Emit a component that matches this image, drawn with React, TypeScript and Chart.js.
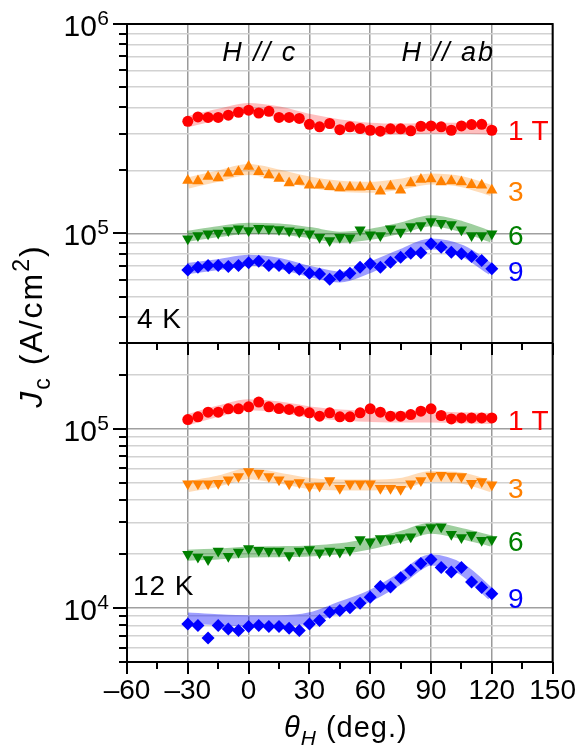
import React, { useEffect, useRef } from 'react';
import { Chart, registerables } from 'chart.js';

Chart.register(...registerables);

const FONT = '"Liberation Sans", Arial, Helvetica, sans-serif';

// ---------- data ----------
const angles = [-30, -25, -20, -15, -10, -5, 0, 5, 10, 15, 20, 25, 30, 35, 40, 45, 50, 55, 60, 65, 70, 75, 80, 85, 90, 95, 100, 105, 110, 115, 120];
const bandAngles = [-30, -15, 0, 15, 30, 45, 60, 75, 90, 105, 120];

// 4 K panel
const jc4K_1T = [3.43e5, 3.60e5, 3.58e5, 3.58e5, 3.67e5, 3.79e5, 3.88e5, 3.76e5, 3.83e5, 3.58e5, 3.58e5, 3.54e5, 3.32e5, 3.23e5, 3.35e5, 3.13e5, 3.23e5, 3.17e5, 3.11e5, 3.08e5, 3.16e5, 3.16e5, 3.09e5, 3.25e5, 3.26e5, 3.23e5, 3.11e5, 3.26e5, 3.31e5, 3.32e5, 3.11e5];
const jc4K_3T = [1.79e5, 1.78e5, 1.87e5, 1.84e5, 1.94e5, 1.97e5, 2.09e5, 1.97e5, 1.90e5, 1.83e5, 1.74e5, 1.77e5, 1.70e5, 1.70e5, 1.67e5, 1.65e5, 1.66e5, 1.66e5, 1.67e5, 1.59e5, 1.68e5, 1.61e5, 1.74e5, 1.81e5, 1.82e5, 1.76e5, 1.78e5, 1.76e5, 1.71e5, 1.70e5, 1.61e5];
const jc4K_6T = [9.43e4, 9.78e4, 9.96e4, 1.004e5, 1.034e5, 1.053e5, 1.034e5, 1.06e5, 1.053e5, 1.045e5, 1.03e5, 1.015e5, 9.96e4, 9.6e4, 9.26e4, 9.6e4, 9.53e4, 1.041e5, 9.85e4, 9.78e4, 1.053e5, 1.015e5, 1.08e5, 1.092e5, 1.141e5, 1.12e5, 1.104e5, 1.041e5, 9.78e4, 9.78e4, 9.96e4];
const jc4K_9T = [6.70e4, 6.90e4, 7.03e4, 7.03e4, 6.95e4, 7.03e4, 7.24e4, 7.37e4, 7.03e4, 7.03e4, 6.85e4, 6.75e4, 6.46e4, 6.41e4, 6.05e4, 6.30e4, 6.46e4, 6.90e4, 7.16e4, 6.90e4, 7.29e4, 7.70e4, 8.05e4, 8.08e4, 8.93e4, 8.60e4, 8.14e4, 8.00e4, 7.76e4, 7.43e4, 6.78e4];

const band4K_1T = [3.42e5, 3.70e5, 3.95e5, 3.80e5, 3.50e5, 3.30e5, 3.18e5, 3.15e5, 3.18e5, 3.18e5, 3.15e5];
const band4K_3T = [1.74e5, 1.88e5, 2.02e5, 1.90e5, 1.76e5, 1.68e5, 1.66e5, 1.72e5, 1.82e5, 1.77e5, 1.60e5];
const band4K_6T = [9.7e4, 1.02e5, 1.06e5, 1.05e5, 1.01e5, 9.6e4, 9.9e4, 1.06e5, 1.15e5, 1.08e5, 9.6e4];
const band4K_9T = [6.8e4, 7.1e4, 7.45e4, 7.2e4, 6.6e4, 6.2e4, 6.9e4, 7.9e4, 8.9e4, 8.3e4, 6.7e4];

// 12 K panel
const jc12K_1T = [1.123e5, 1.163e5, 1.235e5, 1.235e5, 1.289e5, 1.289e5, 1.322e5, 1.405e5, 1.322e5, 1.294e5, 1.278e5, 1.251e5, 1.224e5, 1.172e5, 1.224e5, 1.163e5, 1.163e5, 1.224e5, 1.289e5, 1.235e5, 1.172e5, 1.172e5, 1.198e5, 1.251e5, 1.289e5, 1.183e5, 1.132e5, 1.147e5, 1.147e5, 1.147e5, 1.147e5];
const jc12K_3T = [4.92e4, 4.92e4, 4.92e4, 4.96e4, 5.18e4, 5.41e4, 5.77e4, 5.64e4, 5.41e4, 5.18e4, 4.92e4, 5.00e4, 4.75e4, 4.79e4, 5.13e4, 4.65e4, 4.92e4, 4.92e4, 4.92e4, 4.65e4, 4.65e4, 4.59e4, 4.92e4, 5.13e4, 5.45e4, 5.50e4, 5.45e4, 5.41e4, 4.96e4, 5.07e4, 4.86e4];
const jc12K_6T = [1.994e4, 1.927e4, 1.862e4, 2.08e4, 1.944e4, 2.055e4, 2.145e4, 2.10e4, 2.08e4, 2.08e4, 1.96e4, 2.08e4, 2.118e4, 2.03e4, 2.08e4, 2.055e4, 2.10e4, 2.408e4, 2.338e4, 2.44e4, 2.44e4, 2.472e4, 2.493e4, 2.74e4, 2.81e4, 2.836e4, 2.58e4, 2.472e4, 2.548e4, 2.388e4, 2.408e4];
const jc12K_9T = [8.15e3, 7.98e3, 6.81e3, 7.98e3, 7.64e3, 7.48e3, 7.88e3, 7.98e3, 7.88e3, 7.88e3, 7.71e3, 7.48e3, 8.15e3, 8.51e3, 9.48e3, 9.68e3, 1.002e4, 1.063e4, 1.149e4, 1.319e4, 1.308e4, 1.475e4, 1.622e4, 1.768e4, 1.862e4, 1.68e4, 1.588e4, 1.68e4, 1.395e4, 1.30e4, 1.20e4];

const band12K_1T = [1.12e5, 1.25e5, 1.36e5, 1.32e5, 1.24e5, 1.19e5, 1.17e5, 1.16e5, 1.16e5, 1.15e5, 1.14e5];
const band12K_3T = [4.75e4, 5.1e4, 5.6e4, 5.3e4, 4.95e4, 4.85e4, 4.85e4, 4.95e4, 5.4e4, 5.3e4, 4.75e4];
const band12K_6T = [1.97e4, 2.0e4, 2.05e4, 2.06e4, 2.08e4, 2.14e4, 2.28e4, 2.5e4, 2.78e4, 2.6e4, 2.36e4];
const band12K_9T = [8.8e3, 8.6e3, 8.5e3, 8.5e3, 8.8e3, 1.01e4, 1.17e4, 1.46e4, 1.85e4, 1.65e4, 1.18e4];

const fieldLabels = ['1 T', '3', '6', '9'];
const labelAngle = 128;
const labelY4K = [3.04e5, 1.55e5, 9.57e4, 6.44e4];
const labelY12K = [1.08e5, 4.55e4, 2.30e4, 1.10e4];

const xMin = -60;
const xMax = 150;
const yTopMin = 3e4;
const yTopMax = 1e6;
const yBotMin = 5e3;
const yBotMax = 3e5;

// ---------- styles ----------
const colors = ['#ff0000', '#ff8000', '#008000', '#0000ff'];
const bandColors = ['rgba(255,0,0,0.25)', 'rgba(255,128,0,0.28)', 'rgba(0,128,0,0.38)', 'rgba(0,0,255,0.38)'];
const markerStyles = ['circle', 'triangle', 'triangle', 'rectRot'];
const rotTop = [0, 0, 180, 0];
const rotBot = [0, 180, 180, 0];
const radii = [5.5, 6.5, 6.5, 6.5];

function buildDatasets(axis: string, series: number[][], bands: number[][], rots: number[]) {
  const out: any[] = [];
  bands.forEach((b, i) => {
    out.push({
      type: 'line',
      yAxisID: axis,
      data: bandAngles.map((x, j) => ({ x, y: b[j] })),
      borderColor: bandColors[i],
      borderWidth: 11,
      borderCapStyle: 'butt',
      pointRadius: 0,
      fill: false,
      cubicInterpolationMode: 'monotone',
      order: 2,
    });
  });
  series.forEach((s, i) => {
    out.push({
      type: 'line',
      yAxisID: axis,
      data: angles.map((x, j) => ({ x, y: s[j] })),
      showLine: false,
      pointStyle: markerStyles[i],
      pointRotation: rots[i],
      pointRadius: radii[i],
      pointBackgroundColor: colors[i],
      pointBorderColor: colors[i],
      pointBorderWidth: 0,
      backgroundColor: colors[i],
      borderColor: colors[i],
      order: 1,
    });
  });
  return out;
}

function logTicks(scale: any) {
  const out: any[] = [];
  const lo = Math.floor(Math.log10(scale.min));
  const hi = Math.ceil(Math.log10(scale.max));
  for (let e = lo; e <= hi; e++) {
    for (let m = 1; m <= 9; m++) {
      const v = m * Math.pow(10, e);
      if (v >= scale.min * 0.999 && v <= scale.max * 1.001) out.push({ value: v, major: m === 1 });
    }
  }
  scale.ticks = out;
}

type Part = { t: string; size: number; italic?: boolean; dy?: number };
function setFont(ctx: CanvasRenderingContext2D, p: Part) {
  ctx.font = `${p.italic ? 'italic ' : ''}${p.size}px ${FONT}`;
}
function richWidth(ctx: CanvasRenderingContext2D, parts: Part[]) {
  let w = 0;
  for (const p of parts) { setFont(ctx, p); w += ctx.measureText(p.t).width; }
  return w;
}
function drawRich(ctx: CanvasRenderingContext2D, parts: Part[], x: number, y: number) {
  let cx = x;
  for (const p of parts) {
    setFont(ctx, p);
    ctx.fillText(p.t, cx, y + (p.dy || 0));
    cx += ctx.measureText(p.t).width;
  }
}

const annotations = [
  { text: 'H // c', axis: 'yTop', x: -13, y: 7.27e5, italic: true, size: 27, spacing: 2 },
  { text: 'H // ab', axis: 'yTop', x: 75.4, y: 7.27e5, italic: true, size: 27, spacing: 2 },
  { text: '4 K', axis: 'yTop', x: -55.1, y: 3.84e4, italic: false, size: 28, spacing: 1 },
  { text: '12 K', axis: 'yBot', x: -57.1, y: 1.30e4, italic: false, size: 28, spacing: 1 },
];

const framePlugin = {
  id: 'framePlugin',
  afterDraw(chart: any) {
    const ctx: CanvasRenderingContext2D = chart.ctx;
    const { left, right, top, bottom } = chart.chartArea;
    const xs = chart.scales.x;
    const yT = chart.scales.yTop;
    const yB = chart.scales.yBot;
    const mid = yT.bottom;
    ctx.save();
    ctx.strokeStyle = '#000';
    ctx.fillStyle = '#000';
    ctx.lineWidth = 2;
    // frame
    ctx.strokeRect(left, top, right - left, bottom - top);
    ctx.beginPath();
    ctx.moveTo(left, mid);
    ctx.lineTo(right, mid);
    ctx.stroke();
    // y ticks + labels
    for (const s of [yT, yB]) {
      for (const t of s.ticks) {
        const y = Math.round(s.getPixelForValue(t.value));
        const len = t.major ? 14 : 8;
        ctx.beginPath();
        ctx.moveTo(left - len, y);
        ctx.lineTo(left, y);
        ctx.stroke();
        if (t.major) {
          const e = Math.round(Math.log10(t.value));
          ctx.textAlign = 'right';
          ctx.textBaseline = 'alphabetic';
          ctx.font = `21px ${FONT}`;
          const sup = String(e);
          const supW = ctx.measureText(sup).width;
          const supRight = left - 18;
          ctx.fillText(sup, supRight, y + 1);
          ctx.font = `30px ${FONT}`;
          ctx.fillText('10', supRight - supW - 0.5, y + 11.5);
        }
      }
    }
    // x ticks on bottom and on the panel boundary
    for (const t of xs.ticks) {
      const x = Math.round(xs.getPixelForValue(t.value));
      const major = t.value % 30 === 0;
      const len = major ? 12 : 7;
      for (const y0 of [bottom, mid]) {
        ctx.beginPath();
        ctx.moveTo(x, y0);
        ctx.lineTo(x, y0 + len);
        ctx.stroke();
      }
    }
    // field labels
    ctx.textAlign = 'left';
    ctx.textBaseline = 'middle';
    ctx.font = `28px ${FONT}`;
    fieldLabels.forEach((lab, i) => {
      ctx.fillStyle = colors[i];
      const xp = xs.getPixelForValue(labelAngle);
      ctx.fillText(lab, xp, yT.getPixelForValue(labelY4K[i]));
      ctx.fillText(lab, xp, yB.getPixelForValue(labelY12K[i]));
    });
    // annotations
    ctx.fillStyle = '#000';
    for (const a of annotations) {
      (ctx as any).letterSpacing = `${a.spacing}px`;
      ctx.font = `${a.italic ? 'italic ' : ''}${a.size}px ${FONT}`;
      const s = chart.scales[a.axis];
      ctx.fillText(a.text, xs.getPixelForValue(a.x), s.getPixelForValue(a.y));
    }
    // y title
    ctx.textBaseline = 'alphabetic';
    ctx.textAlign = 'left';
    (ctx as any).letterSpacing = '2px';
    const yParts: Part[] = [
      { t: 'J', size: 32, italic: true },
      { t: 'c', size: 23, dy: 8 },
      { t: ' (A/cm', size: 32 },
      { t: '2', size: 23, dy: -13 },
      { t: ')', size: 32 },
    ];
    const yw = richWidth(ctx, yParts);
    ctx.save();
    ctx.translate(42, (top + bottom) / 2 - 17);
    ctx.rotate(-Math.PI / 2);
    drawRich(ctx, yParts, -yw / 2, 0);
    ctx.restore();
    // x title
    (ctx as any).letterSpacing = '1px';
    const xParts: Part[] = [
      { t: '\u03b8', size: 29, italic: true },
      { t: 'H', size: 21, italic: true, dy: 8 },
      { t: ' (deg.)', size: 29 },
    ];
    const xw = richWidth(ctx, xParts);
    drawRich(ctx, xParts, (left + right) / 2 + 6 - xw / 2, 737);
    (ctx as any).letterSpacing = '0px';
    ctx.restore();
  },
};

function fmtX(v: number) {
  if (v % 30 !== 0) return '';
  return v < 0 ? '\u2013' + Math.abs(v) : String(v);
}

export default function App() {
  const ref = useRef<HTMLCanvasElement>(null);
  useEffect(() => {
    if (!ref.current) return;
    const datasets = [
      ...buildDatasets('yTop', [jc4K_1T, jc4K_3T, jc4K_6T, jc4K_9T], [band4K_1T, band4K_3T, band4K_6T, band4K_9T], rotTop),
      ...buildDatasets('yBot', [jc12K_1T, jc12K_3T, jc12K_6T, jc12K_9T], [band12K_1T, band12K_3T, band12K_6T, band12K_9T], rotBot),
    ];
    const chart = new Chart(ref.current, {
      type: 'line',
      data: { datasets },
      options: {
        responsive: false,
        animation: false,
        devicePixelRatio: 1,
        layout: { padding: { top: 24, right: 30, bottom: 0, left: 0 } },
        plugins: { legend: { display: false }, tooltip: { enabled: false } },
        scales: {
          x: {
            type: 'linear',
            min: xMin,
            max: xMax,
            position: 'bottom',
            ticks: {
              stepSize: 15,
              autoSkip: false,
              maxRotation: 0,
              color: '#000',
              font: { family: FONT, size: 28 },
              padding: 12,
              callback: (v: any) => fmtX(Number(v)),
            },
            grid: {
              color: (c: any) => (c.tick && c.tick.value % 30 === 0 ? '#9a9a9a' : 'rgba(0,0,0,0)'),
              lineWidth: 1.5,
              drawTicks: false,
            },
            border: { display: false },
            afterFit: (s: any) => { s.height = 93; },
          },
          yBot: {
            type: 'logarithmic',
            min: yBotMin,
            max: yBotMax,
            position: 'left',
            stack: 'panels',
            stackWeight: 1,
            afterBuildTicks: logTicks,
            ticks: { display: false },
            grid: {
              color: (c: any) => (c.tick && c.tick.major ? '#a0a0a0' : '#d2d2d2'),
              lineWidth: 1.5,
              drawTicks: false,
            },
            border: { display: false },
            afterFit: (s: any) => { s.width = 127; },
          },
          yTop: {
            type: 'logarithmic',
            min: yTopMin,
            max: yTopMax,
            position: 'left',
            stack: 'panels',
            stackWeight: 1,
            afterBuildTicks: logTicks,
            ticks: { display: false },
            grid: {
              color: (c: any) => (c.tick && c.tick.major ? '#a0a0a0' : '#d2d2d2'),
              lineWidth: 1.5,
              drawTicks: false,
            },
            border: { display: false },
            afterFit: (s: any) => { s.width = 127; },
          },
        },
      } as any,
      plugins: [framePlugin],
    });
    return () => chart.destroy();
  }, []);
  return (
    <div style={{ position: 'absolute', left: 0, top: 0, width: 588, height: 755, background: '#fff' }}>
      <canvas ref={ref} width={588} height={755} style={{ display: 'block', width: 588, height: 755 }} />
    </div>
  );
}
